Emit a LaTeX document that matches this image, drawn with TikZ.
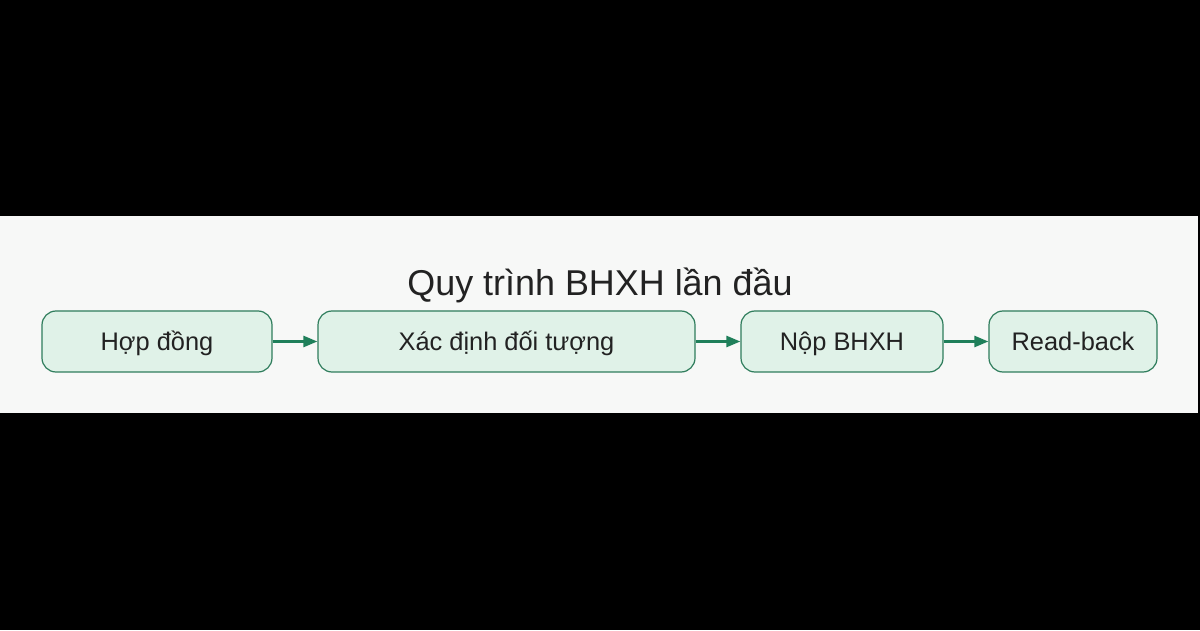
\documentclass[tikz,border=0pt]{standalone}
\usepackage{fontspec}
\setmainfont{Liberation Sans}
\usetikzlibrary{arrows.meta}
\definecolor{panelbg}{HTML}{F7F8F7}
\definecolor{boxfill}{HTML}{E0F2E8}
\definecolor{boxline}{HTML}{2F7D5C}
\definecolor{arrowc}{HTML}{1F7F5A}
\definecolor{txt}{HTML}{222222}
\begin{document}
\begin{tikzpicture}[x=1pt,y=1pt,
  stepbox/.style={draw=boxline, fill=boxfill, line width=1.2pt, rounded corners=14pt,
    minimum height=61pt, inner sep=0pt, text height=18.2pt, text depth=0pt,
    text=txt, font=\fontsize{25.4}{30}\selectfont},
  conn/.style={draw=arrowc, line width=2.5pt, -{Triangle[length=14pt,width=11pt]}}]
\useasboundingbox (0,0) rectangle (1200,630);
\fill[black] (0,0) rectangle (1200,630);
\fill[panelbg] (0,217) rectangle (1198,414);
\node[text=txt, inner sep=0pt, text height=25.8pt, text depth=0pt,
  font=\fontsize{35.9}{42}\selectfont] (title) at (600,347) {Quy trình BHXH lần đầu};
\node[stepbox, minimum width=230pt] (a) at (157,288.5) {Hợp đồng};
\node[stepbox, minimum width=377pt] (b) at (506.5,288.5) {Xác định đối tượng};
\node[stepbox, minimum width=202pt] (c) at (842,288.5) {Nộp BHXH};
\node[stepbox, minimum width=168pt] (d) at (1073,288.5) {Read-back};
\draw[conn] (a) -- (b);
\draw[conn] (b) -- (c);
\draw[conn] (c) -- (d);
\end{tikzpicture}
\end{document}
